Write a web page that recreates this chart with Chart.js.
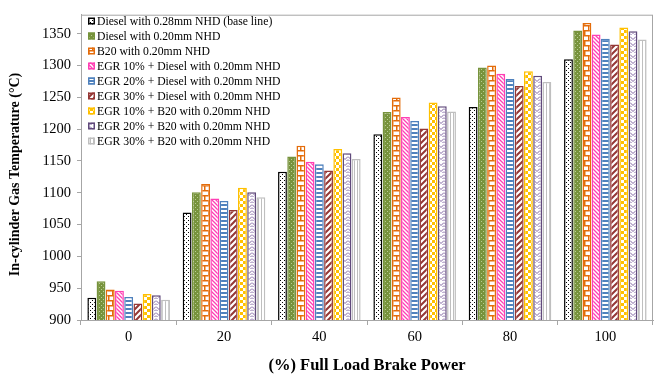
<!DOCTYPE html>
<html>
<head>
<meta charset="utf-8">
<script src="https://cdn.jsdelivr.net/npm/chart.js@4.4.1/dist/chart.umd.min.js"></script>
<style>
  body { margin: 0; background: #fff; }
  canvas { display: block; }
</style>
</head>
<body>
<canvas id="canvas" width="657" height="376"></canvas>
<script>

let loads = ['0', '20', '40', '60', '80', '100'];

let seriesNames = [
  'Diesel with 0.28mm NHD (base line)',
  'Diesel with 0.20mm NHD',
  'B20 with 0.20mm NHD',
  'EGR 10% + Diesel with 0.20mm NHD',
  'EGR 20% + Diesel with 0.20mm NHD',
  'EGR 30% + Diesel with 0.20mm NHD',
  'EGR 10% + B20 with 0.20mm NHD',
  'EGR 20% + B20 with 0.20mm NHD',
  'EGR 30% + B20 with 0.20mm NHD'
];

let diesel028   = [935, 1069, 1133, 1192, 1235, 1310];
let diesel020   = [961, 1101, 1157, 1227, 1297, 1355];
let b20         = [948, 1114, 1174, 1250, 1300, 1367];
let egr10Diesel = [946, 1091, 1149, 1219, 1287, 1349];
let egr20Diesel = [936, 1087, 1145, 1213, 1279, 1342];
let egr30Diesel = [926, 1073, 1135, 1201, 1268, 1333];
let egr10B20    = [941, 1108, 1169, 1242, 1291, 1360];
let egr20B20    = [939, 1101, 1162, 1236, 1284, 1354];
let egr30B20    = [932, 1093, 1153, 1228, 1274, 1341];

let yTicks = [900, 950, 1000, 1050, 1100, 1150, 1200, 1250, 1300, 1350];


// small tiles used as bar fills
function makePattern(w, h, draw) {
  let c = document.createElement('canvas');
  c.width = w;
  c.height = h;
  let ctx = c.getContext('2d');
  ctx.fillStyle = '#fff';
  ctx.fillRect(0, 0, w, h);
  draw(ctx);
  return ctx.createPattern(c, 'repeat');
}

let dots = makePattern(4, 4, function(ctx) {
  ctx.fillStyle = '#000';
  ctx.fillRect(0, 0, 1, 1);
  ctx.fillRect(2, 2, 1, 1);
});

let greenDots = makePattern(4, 4, function(ctx) {
  ctx.fillStyle = '#77933C';
  ctx.fillRect(0, 0, 4, 4);
  ctx.fillStyle = '#b9cc93';
  ctx.fillRect(1, 1, 1, 1);
  ctx.fillRect(3, 3, 1, 1);
});

let brick = makePattern(8, 10, function(ctx) {
  ctx.fillStyle = '#E46C0A';
  ctx.fillRect(0, 0, 8, 1.5);
  ctx.fillRect(0, 5, 8, 1.5);
  ctx.fillRect(0, 0, 1.5, 5);
  ctx.fillRect(4, 5, 1.5, 5);
});

let pinkDiag = makePattern(4, 4, function(ctx) {
  ctx.strokeStyle = '#FF3FB4';
  ctx.lineWidth = 1.3;
  ctx.beginPath();
  ctx.moveTo(-1, -1); ctx.lineTo(5, 5);
  ctx.moveTo(3, -1); ctx.lineTo(5, 1);
  ctx.moveTo(-1, 3); ctx.lineTo(1, 5);
  ctx.stroke();
});

let blueLines = makePattern(4, 4, function(ctx) {
  ctx.fillStyle = '#4F81BD';
  ctx.fillRect(0, 0, 4, 2);
});

let redDiag = makePattern(6, 6, function(ctx) {
  ctx.strokeStyle = '#953735';
  ctx.lineWidth = 2;
  ctx.beginPath();
  ctx.moveTo(-1, 7); ctx.lineTo(7, -1);
  ctx.moveTo(-1, 1); ctx.lineTo(1, -1);
  ctx.moveTo(5, 7); ctx.lineTo(7, 5);
  ctx.stroke();
});

let checker = makePattern(6, 6, function(ctx) {
  ctx.fillStyle = '#FFC000';
  ctx.fillRect(0, 0, 3, 3);
  ctx.fillRect(3, 3, 3, 3);
});

let weave = makePattern(6, 6, function(ctx) {
  ctx.strokeStyle = '#8064A2';
  ctx.lineWidth = 1;
  ctx.beginPath();
  ctx.moveTo(0, 0.5); ctx.lineTo(3, 3.5); ctx.lineTo(6, 0.5);
  ctx.moveTo(0, 3.5); ctx.lineTo(1.5, 5);
  ctx.moveTo(6, 3.5); ctx.lineTo(4.5, 5);
  ctx.stroke();
});

let grayLines = makePattern(3, 3, function(ctx) {
  ctx.fillStyle = '#BFBFBF';
  ctx.fillRect(0, 0, 1, 3);
});

let seriesData = [diesel028, diesel020, b20, egr10Diesel, egr20Diesel,
                  egr30Diesel, egr10B20, egr20B20, egr30B20];
let fills = [dots, greenDots, brick, pinkDiag, blueLines, redDiag, checker, weave, grayLines];
let borders = ['#000000', '#77933C', '#E46C0A', '#FF3FB4', '#4F81BD',
               '#953735', '#FFC000', '#604A7B', '#BFBFBF'];

let datasets = [];
for (let i = 0; i < seriesData.length; i++) {
  datasets.push({
    label: seriesNames[i],
    data: seriesData[i],
    backgroundColor: fills[i],
    borderColor: borders[i],
    borderWidth: 1.5,
    borderSkipped: false
  });
}

let serif = "'Liberation Serif', 'Times New Roman', serif";


// legend inside the plot, box around plot, rotated y title
let extras = {
  id: 'extras',
  afterDraw: function(chart) {
    let ctx = chart.ctx;
    let a = chart.chartArea;
    ctx.save();

    ctx.strokeStyle = '#a6a6a6';
    ctx.lineWidth = 1;
    ctx.strokeRect(a.left + 0.5, a.top + 0.5, a.right - a.left - 1, a.bottom - a.top);

    ctx.font = '11.7px ' + serif;
    ctx.textBaseline = 'middle';
    ctx.textAlign = 'left';
    for (let i = 0; i < datasets.length; i++) {
      let y = 21 + i * 15;
      ctx.fillStyle = fills[i];
      ctx.fillRect(88, y - 3.5, 7, 7);
      ctx.strokeStyle = borders[i];
      ctx.lineWidth = 1.5;
      ctx.strokeRect(88.75, y - 2.75, 5.5, 5.5);
      ctx.fillStyle = '#000';
      ctx.fillText(seriesNames[i], 97, y + 0.5);
    }

    ctx.translate(15, 174.5);
    ctx.rotate(-Math.PI / 2);
    ctx.font = 'bold 14px ' + serif;
    ctx.textAlign = 'center';
    ctx.fillStyle = '#000';
    ctx.fillText('In-cylinder Gas Temperature (°C)', 0, 0);
    ctx.restore();
  }
};

let options = {
  type: 'bar',
  data: {
    labels: loads,
    datasets: datasets
  },
  options: {
    responsive: false,
    animation: false,
    layout: {
      padding: { left: 0, right: 4, top: 11, bottom: 0 }
    },
    datasets: {
      bar: {
        categoryPercentage: 0.87,
        barPercentage: 0.96
      }
    },
    plugins: {
      legend: { display: false },
      tooltip: { enabled: false }
    },
    scales: {
      x: {
        grid: {
          offset: true,
          drawOnChartArea: false,
          tickLength: 5,
          color: '#a6a6a6'
        },
        border: { color: '#a6a6a6' },
        ticks: {
          color: '#000',
          padding: 3,
          font: { family: serif, size: 14.5 }
        },
        title: {
          display: true,
          text: '(%) Full Load Brake Power',
          color: '#000',
          padding: { top: 0, bottom: 0 },
          font: { family: serif, size: 16.5, weight: 'bold' }
        },
        afterFit: function(scale) { scale.height = 56; }
      },
      y: {
        min: 900,
        max: 1380,
        grid: {
          drawOnChartArea: false,
          tickLength: 4,
          color: '#a6a6a6'
        },
        border: { color: '#a6a6a6' },
        ticks: {
          stepSize: 50,
          color: '#000',
          padding: 6,
          font: { family: serif, size: 14.5 },
          callback: function(value) { return String(value); }
        },
        afterBuildTicks: function(scale) {
          scale.ticks = yTicks.map(function(v) { return { value: v }; });
        },
        afterFit: function(scale) { scale.width = 81; }
      }
    }
  },
  plugins: [extras]
};

let chart = new Chart(document.getElementById('canvas'), options);

</script>
</body>
</html>
